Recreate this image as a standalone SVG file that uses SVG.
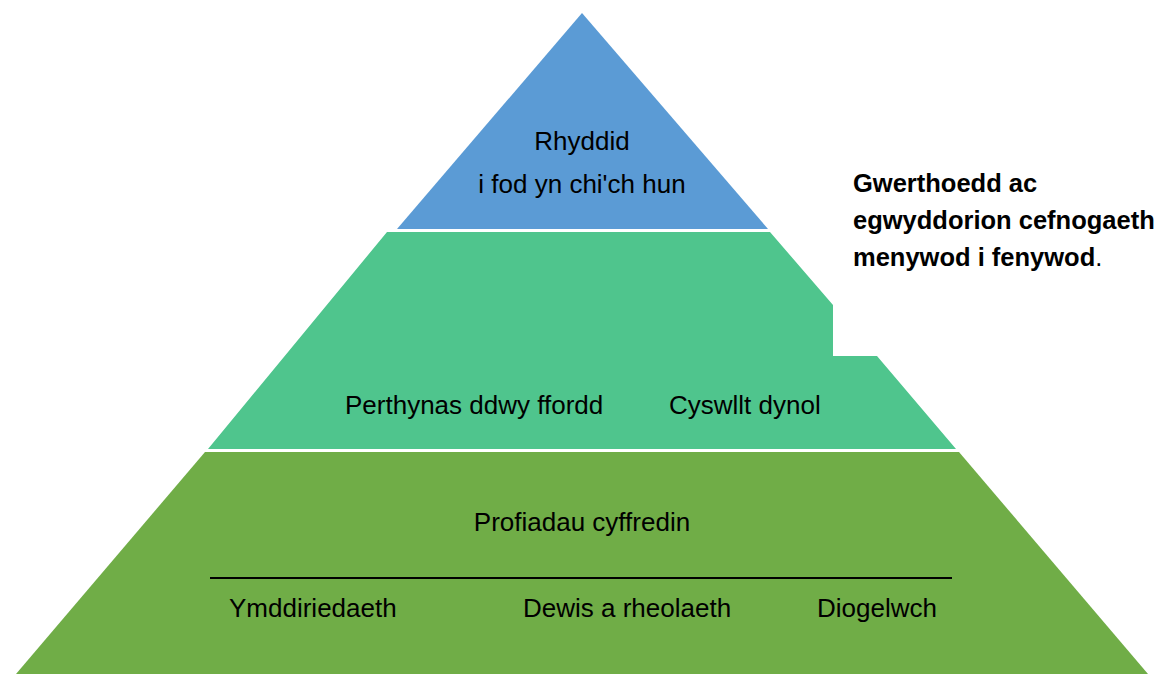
<svg xmlns="http://www.w3.org/2000/svg" width="1163" height="674" viewBox="0 0 1163 674">
<style>
.t{font-family:"Liberation Sans",Arial,sans-serif;font-size:26px;fill:#000}
.b{font-family:"Liberation Sans",Arial,sans-serif;font-size:25.5px;font-weight:bold;fill:#000}
</style>
<rect width="1163" height="674" fill="#fff"/>
<g id="top">
<polygon points="582,13 768,229 397,229" fill="#5B9BD5"/>
<text class="t" x="582" y="150" text-anchor="middle">Rhyddid</text>
<text class="t" x="582" y="193" text-anchor="middle">i fod yn chi'ch hun</text>
</g>
<g id="middle">
<polygon points="387,232 770,232 833,305 833,356 877,356 956,449 208,449" fill="#4FC58D"/>
<text class="t" x="345" y="414">Perthynas ddwy ffordd</text>
<text class="t" x="669" y="414">Cyswllt dynol</text>
</g>
<g id="bottom">
<polygon points="205,452 959,452 1148,674 16,674" fill="#70AD47"/>
<text class="t" x="582" y="531" text-anchor="middle">Profiadau cyffredin</text>
<line x1="210" y1="578" x2="952" y2="578" stroke="#000" stroke-width="2"/>
<text class="t" x="229" y="617">Ymddiriedaeth</text>
<text class="t" x="523" y="617">Dewis a rheolaeth</text>
<text class="t" x="817" y="617">Diogelwch</text>
</g>
<g id="caption">
<text class="b" x="853" y="192">Gwerthoedd ac</text>
<text class="b" x="853" y="229">egwyddorion cefnogaeth</text>
<text class="b" x="853" y="266">menywod i fenywod<tspan font-weight="normal">.</tspan></text>
</g>
<g id="connectors"/>
</svg>
